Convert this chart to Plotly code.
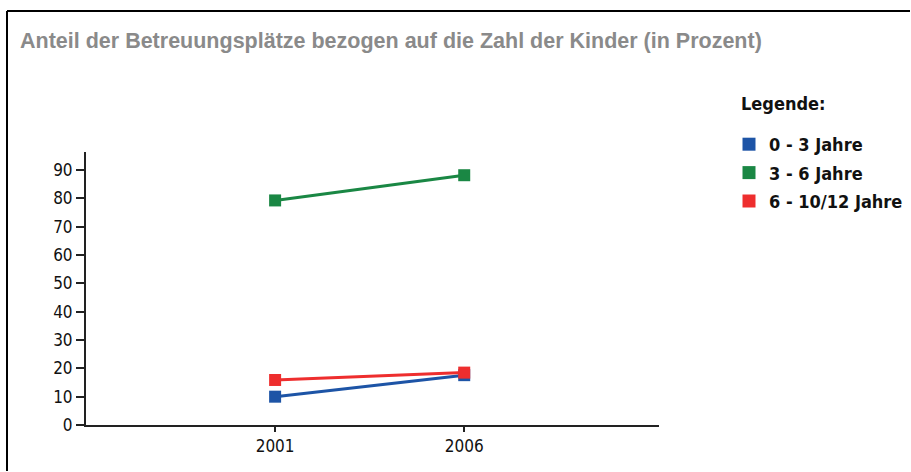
import plotly.graph_objects as go

years = ["2001", "2006"]
series_names = ["0 - 3 Jahre", "3 - 6 Jahre", "6 - 10/12 Jahre"]
values_0_3 = [10, 17.6]
values_3_6 = [79.3, 88.2]
values_6_10 = [15.9, 18.5]
colors = ["#1d54a6", "#1a8744", "#ee2e2e"]
y_ticks = [0, 10, 20, 30, 40, 50, 60, 70, 80, 90]

all_values = [values_0_3, values_3_6, values_6_10]
narrow = "Liberation Sans Narrow, DejaVu Sans Condensed, sans-serif"
tick_font = dict(family=narrow, size=17, color="#111")

fig = go.Figure()
# data traces (no legend)
for name, vals, col in zip(series_names, all_values, colors):
    fig.add_trace(go.Scatter(
        x=years, y=vals, mode="lines+markers", name=name, showlegend=False,
        line=dict(color=col, width=3, shape="linear"),
        marker=dict(symbol="square", size=12, color=col),
        hoverinfo="x+y+name",
    ))
# legend entries (square swatches)
for i, (name, col) in enumerate(zip(series_names, colors)):
    fig.add_trace(go.Scatter(
        x=[None], y=[None], mode="markers", name=name, legendgroup=f"g{i}",
        marker=dict(symbol="square", size=13, color=col),
    ))

frame_line = dict(color="#000", width=2)
fig.update_layout(
    width=911, height=472, autosize=False,
    margin=dict(l=86, r=252, t=152, b=47),
    paper_bgcolor="white", plot_bgcolor="white",
    title=dict(
        text="<b>Anteil der Betreuungsplätze bezogen auf die Zahl der Kinder (in Prozent)</b>",
        x=20 / 911, xanchor="left", xref="container",
        y=1 - 40 / 472, yanchor="middle", yref="container",
        font=dict(family="Liberation Sans, Arial, sans-serif", size=21.5, color="#8a8a8a"),
    ),
    xaxis=dict(
        type="category", range=[-1, 2.03], showgrid=False, zeroline=False,
        showline=True, linecolor="#222", linewidth=2,
        ticks="outside", ticklen=5, tickwidth=1.5, tickcolor="#222",
        tickfont=tick_font, fixedrange=True,
    ),
    yaxis=dict(
        range=[0, 96.4], tickvals=y_ticks, showgrid=False, zeroline=False,
        showline=True, linecolor="#222", linewidth=2,
        ticks="outside", ticklen=8, tickwidth=1.5, tickcolor="#222",
        tickfont=tick_font, fixedrange=True,
    ),
    legend=dict(
        xref="container", yref="container",
        x=729 / 911, xanchor="left", y=1 - 126 / 472, yanchor="top",
        font=dict(family=narrow, size=18, color="#111", weight="bold"),
        tracegroupgap=2, bgcolor="rgba(0,0,0,0)",
    ),
    annotations=[dict(
        text="<b>Legende:</b>", xref="paper", yref="paper",
        x=(739 - 86) / 573, xanchor="left", y=(425 - 104) / 273, yanchor="middle",
        showarrow=False, font=dict(family=narrow, size=18, color="#111"),
    )],
    shapes=[
        dict(type="line", xref="paper", yref="paper",
             x0=(7 - 86) / 573, x1=(910 - 86) / 573,
             y0=(425 - 11) / 273, y1=(425 - 11) / 273,
             line=frame_line, layer="below"),
        dict(type="line", xref="paper", yref="paper",
             x0=(7 - 86) / 573, x1=(7 - 86) / 573,
             y0=(425 - 11) / 273, y1=(425 - 471) / 273,
             line=frame_line, layer="below"),
    ],
)

fig.write_html(
    "out.html",
    config={"displayModeBar": False, "responsive": False},
    post_script=(
        "document.body.style.margin='0';"
        "document.body.style.overflow='hidden';"
        "document.documentElement.style.overflow='hidden';"
    ),
)
